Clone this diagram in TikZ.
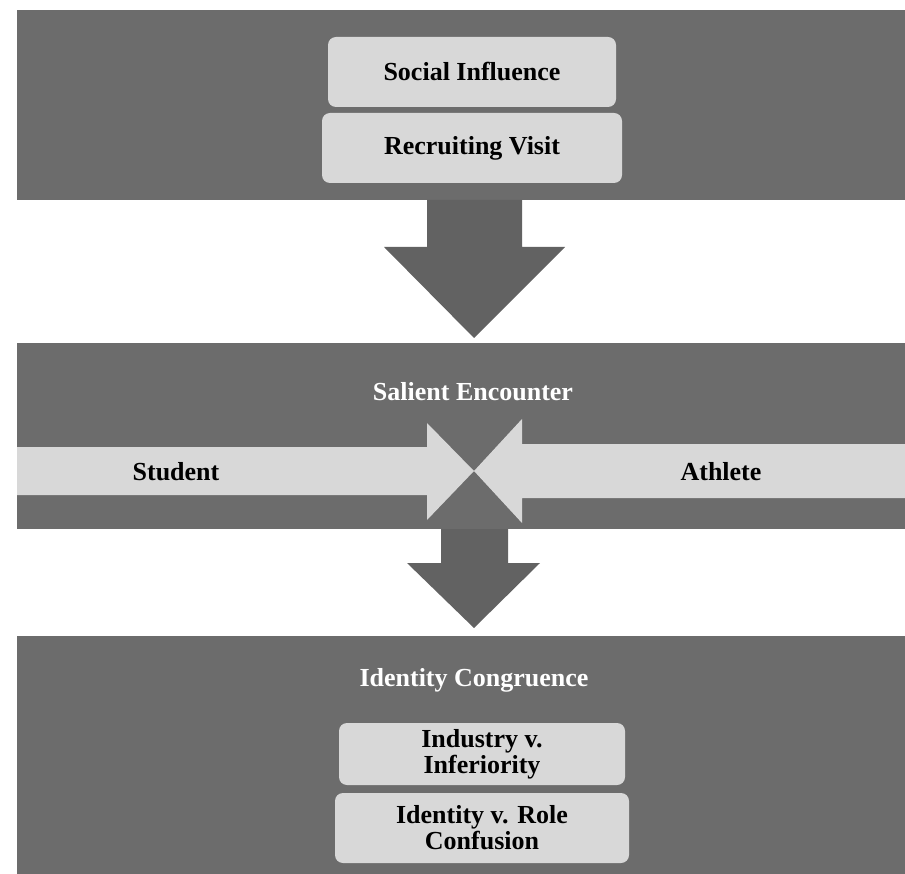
\documentclass[tikz,border=0pt]{standalone}
\usepackage{fontspec}
\setmainfont{Liberation Serif}
\definecolor{bandgray}{HTML}{6C6C6C}
\definecolor{arrowgray}{HTML}{626262}
\definecolor{boxgray}{HTML}{D8D8D8}
\begin{document}
\begin{tikzpicture}[x=1pt,y=-1pt,
  band/.style={fill=bandgray},
  blockarrow/.style={fill=arrowgray},
  lightarrow/.style={fill=boxgray},
  lbox/.style={fill=boxgray, rounded corners=8pt, inner sep=2pt, align=center,
    font=\fontsize{26}{26}\selectfont\bfseries, text=black},
  bandlabel/.style={font=\fontsize{26}{26}\selectfont\bfseries, text=white},
  sidelabel/.style={font=\fontsize{26}{26}\selectfont\bfseries, text=black}]
\useasboundingbox (0,0) rectangle (905,874);
% bands
\fill[band] (17,10) rectangle (905,200);
\fill[band] (17,343) rectangle (905,529);
\fill[band] (17,636) rectangle (905,874);
% top boxes
\node[lbox, minimum width=288pt, minimum height=70pt] (social) at (472,72) {Social Influence};
\node[lbox, minimum width=300pt, minimum height=70pt] (visit) at (472,148) {Recruiting Visit};
% arrow 1
\coordinate (a1) at (474,200);
\fill[blockarrow] (427,200) -- (522,200) -- (522,247) -- (565,247) -- (474,338) -- (384,247) -- (427,247) -- cycle;
% middle band
\node[bandlabel] (salient) at (473,392) {Salient Encounter};
\fill[lightarrow] (17,447) -- (427,447) -- (427,423) -- (474,471) -- (427,520) -- (427,495) -- (17,495) -- cycle;
\fill[lightarrow] (905,444) -- (522,444) -- (522,419) -- (474,471) -- (522,523) -- (522,498) -- (905,498) -- cycle;
\node[sidelabel] (student) at (176,472) {Student};
\node[sidelabel] (athlete) at (721,472) {Athlete};
% arrow 2
\fill[blockarrow] (441,529) -- (508,529) -- (508,563) -- (540,563) -- (474,628) -- (407,563) -- (441,563) -- cycle;
% bottom band
\node[bandlabel] (congruence) at (474,680) {Identity Congruence};
\node[lbox, minimum width=286pt, minimum height=62pt] (industry) at (482,754) {Industry v.\\Inferiority};
\node[lbox, minimum width=294pt, minimum height=70pt] (identity) at (482,828) {Identity v. Role\\Confusion};
\end{tikzpicture}
\end{document}
